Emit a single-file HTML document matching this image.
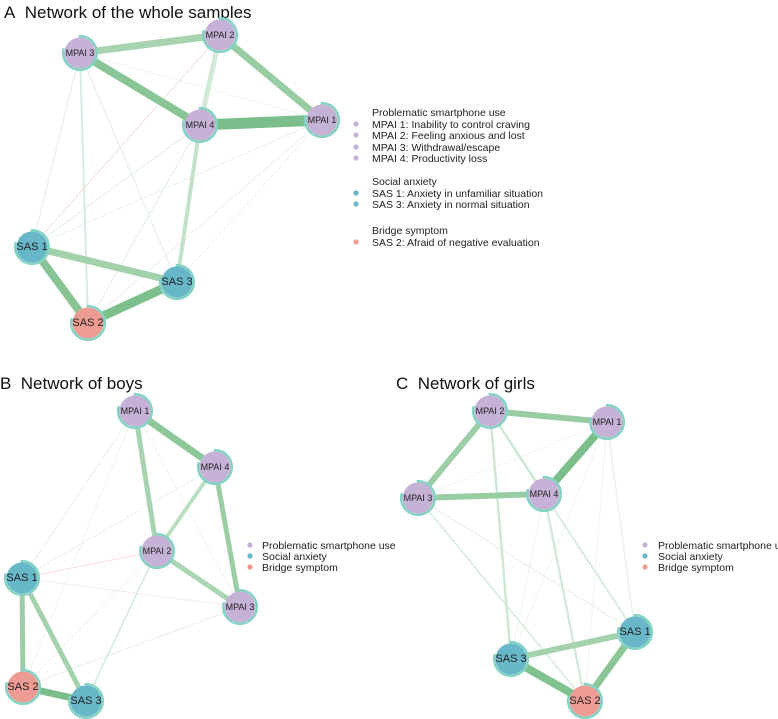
<!DOCTYPE html>
<html><head><meta charset="utf-8"><style>
body{margin:0;background:#fff}
svg{display:block;font-family:"Liberation Sans",Arial,sans-serif}
.t{font-size:17px;fill:#111}
.l{font-size:10.5px;fill:#222}
.m{font-size:9px;fill:#222;text-anchor:middle;dominant-baseline:central}
.s{font-size:11px;fill:#222;text-anchor:middle;dominant-baseline:central}
.r{fill:none;stroke:#86d3c6;stroke-width:2.6;stroke-dasharray:84 20}
</style></head><body>
<svg width="778" height="719" viewBox="0 0 778 719">
<text class="t" x="4" y="18">A&#160;&#160;Network of the whole samples</text>
<text class="t" x="0" y="389">B&#160;&#160;Network of boys</text>
<text class="t" x="396" y="389">C&#160;&#160;Network of girls</text>

<g stroke-linecap="butt">
<line x1="80" y1="53" x2="32" y2="247" stroke="#e6f2e9" stroke-width="1.2"/>
<line x1="80" y1="53" x2="177" y2="282" stroke="#e6f2e9" stroke-width="1.2"/>
<line x1="80" y1="53" x2="322" y2="120" stroke="#f0f7f2" stroke-width="1.2"/>
<line x1="220" y1="35" x2="32" y2="247" stroke="#f8e2e2" stroke-width="1.2"/>
<line x1="200" y1="125" x2="32" y2="247" stroke="#e6f2e9" stroke-width="1.2"/>
<line x1="200" y1="125" x2="88" y2="323" stroke="#e6f2e9" stroke-width="1.2"/>
<line x1="322" y1="120" x2="32" y2="247" stroke="#ebf4ed" stroke-width="1.2"/>
<line x1="322" y1="120" x2="88" y2="323" stroke="#ebf4ed" stroke-width="1.2"/>
<line x1="322" y1="120" x2="177" y2="282" stroke="#f0f7f2" stroke-width="1.2"/>
<line x1="80" y1="53" x2="88" y2="323" stroke="#d8ecde" stroke-width="2"/>
<line x1="220" y1="35" x2="200" y2="125" stroke="#d2e9d7" stroke-width="5"/>
<line x1="200" y1="125" x2="177" y2="282" stroke="#c2e1c8" stroke-width="4"/>
<line x1="80" y1="53" x2="220" y2="35" stroke="#a7d3b0" stroke-width="7"/>
<line x1="80" y1="53" x2="200" y2="125" stroke="#89c596" stroke-width="8"/>
<line x1="220" y1="35" x2="322" y2="120" stroke="#98cca3" stroke-width="7"/>
<line x1="200" y1="125" x2="322" y2="120" stroke="#7cbe8b" stroke-width="11"/>
<line x1="32" y1="247" x2="177" y2="282" stroke="#a2d1ac" stroke-width="7"/>
<line x1="32" y1="247" x2="88" y2="323" stroke="#88c495" stroke-width="8"/>
<line x1="88" y1="323" x2="177" y2="282" stroke="#7dbf8c" stroke-width="9"/>
</g>

<g>
<line x1="135" y1="411" x2="22" y2="578" stroke="#ebf4ed" stroke-width="1.2"/>
<line x1="135" y1="411" x2="23" y2="687" stroke="#f0f7f2" stroke-width="1.2"/>
<line x1="135" y1="411" x2="240" y2="607" stroke="#f0f7f2" stroke-width="1.2"/>
<line x1="215" y1="467" x2="22" y2="578" stroke="#ebf4ed" stroke-width="1.2"/>
<line x1="157" y1="551" x2="22" y2="578" stroke="#f8e2e2" stroke-width="1.2"/>
<line x1="22" y1="578" x2="240" y2="607" stroke="#f6eded" stroke-width="1.2"/>
<line x1="157" y1="551" x2="23" y2="687" stroke="#f0f7f2" stroke-width="1.2"/>
<line x1="240" y1="607" x2="23" y2="687" stroke="#e8f3eb" stroke-width="1.2"/>
<line x1="157" y1="551" x2="86" y2="701" stroke="#dbeee0" stroke-width="2"/>
<line x1="135" y1="411" x2="215" y2="467" stroke="#8ec799" stroke-width="7"/>
<line x1="135" y1="411" x2="157" y2="551" stroke="#a7d3b0" stroke-width="5"/>
<line x1="215" y1="467" x2="157" y2="551" stroke="#bcdfc3" stroke-width="4"/>
<line x1="215" y1="467" x2="240" y2="607" stroke="#9ccea6" stroke-width="5"/>
<line x1="157" y1="551" x2="240" y2="607" stroke="#a9d5b2" stroke-width="5"/>
<line x1="22" y1="578" x2="23" y2="687" stroke="#9ccea6" stroke-width="5"/>
<line x1="22" y1="578" x2="86" y2="701" stroke="#a4d2ad" stroke-width="5"/>
<line x1="23" y1="687" x2="86" y2="701" stroke="#7cbe8b" stroke-width="7"/>
</g>

<g>
<line x1="418" y1="498" x2="607" y2="422" stroke="#f0f7f2" stroke-width="1.2"/>
<line x1="418" y1="498" x2="635" y2="632" stroke="#e6f2e9" stroke-width="1.2"/>
<line x1="607" y1="422" x2="511" y2="659" stroke="#f0f7f2" stroke-width="1.2"/>
<line x1="607" y1="422" x2="585" y2="701" stroke="#f0f7f2" stroke-width="1.2"/>
<line x1="607" y1="422" x2="635" y2="632" stroke="#e8f3eb" stroke-width="1.5"/>
<line x1="544" y1="494" x2="511" y2="659" stroke="#f0f7f2" stroke-width="1.2"/>
<line x1="418" y1="498" x2="585" y2="701" stroke="#dcefe1" stroke-width="2"/>
<line x1="490" y1="411" x2="511" y2="659" stroke="#cfe8d5" stroke-width="2.5"/>
<line x1="490" y1="411" x2="544" y2="494" stroke="#cfe8d5" stroke-width="2.5"/>
<line x1="544" y1="494" x2="585" y2="701" stroke="#d3eada" stroke-width="2.5"/>
<line x1="544" y1="494" x2="635" y2="632" stroke="#d8ecde" stroke-width="2"/>
<line x1="490" y1="411" x2="607" y2="422" stroke="#98cca3" stroke-width="6"/>
<line x1="490" y1="411" x2="418" y2="498" stroke="#9ccea6" stroke-width="6"/>
<line x1="418" y1="498" x2="544" y2="494" stroke="#98cca3" stroke-width="6"/>
<line x1="544" y1="494" x2="607" y2="422" stroke="#7cbe8b" stroke-width="8"/>
<line x1="635" y1="632" x2="511" y2="659" stroke="#a4d2ad" stroke-width="6"/>
<line x1="511" y1="659" x2="585" y2="701" stroke="#82c190" stroke-width="8"/>
<line x1="635" y1="632" x2="585" y2="701" stroke="#8ac696" stroke-width="7"/>
</g>

<g>
<circle cx="80" cy="53" r="15.5" fill="#c6b2d6"/><circle class="r" cx="80" cy="53" r="16.8" transform="rotate(-90 80 53)"/><text class="m" x="80" y="53">MPAI 3</text>
<circle cx="220" cy="35" r="15.5" fill="#c6b2d6"/><circle class="r" cx="220" cy="35" r="16.8" transform="rotate(-90 220 35)"/><text class="m" x="220" y="35">MPAI 2</text>
<circle cx="200" cy="125" r="15.5" fill="#c6b2d6"/><circle class="r" cx="200" cy="125" r="16.8" transform="rotate(-90 200 125)"/><text class="m" x="200" y="125">MPAI 4</text>
<circle cx="322" cy="120" r="15.5" fill="#c6b2d6"/><circle class="r" cx="322" cy="120" r="16.8" transform="rotate(-90 322 120)"/><text class="m" x="322" y="120">MPAI 1</text>
<circle cx="32" cy="247" r="15.5" fill="#67b7c9"/><circle class="r" cx="32" cy="247" r="16.8" transform="rotate(-90 32 247)"/><text class="s" x="32" y="247">SAS 1</text>
<circle cx="177" cy="282" r="15.5" fill="#67b7c9"/><circle class="r" cx="177" cy="282" r="16.8" transform="rotate(-90 177 282)"/><text class="s" x="177" y="282">SAS 3</text>
<circle cx="88" cy="323" r="15.5" fill="#ee9c93"/><circle class="r" cx="88" cy="323" r="16.8" transform="rotate(-90 88 323)"/><text class="s" x="88" y="323">SAS 2</text>
<circle cx="135" cy="411" r="15.5" fill="#c6b2d6"/><circle class="r" cx="135" cy="411" r="16.8" transform="rotate(-90 135 411)"/><text class="m" x="135" y="411">MPAI 1</text>
<circle cx="215" cy="467" r="15.5" fill="#c6b2d6"/><circle class="r" cx="215" cy="467" r="16.8" transform="rotate(-90 215 467)"/><text class="m" x="215" y="467">MPAI 4</text>
<circle cx="157" cy="551" r="15.5" fill="#c6b2d6"/><circle class="r" cx="157" cy="551" r="16.8" transform="rotate(-90 157 551)"/><text class="m" x="157" y="551">MPAI 2</text>
<circle cx="240" cy="607" r="15.5" fill="#c6b2d6"/><circle class="r" cx="240" cy="607" r="16.8" transform="rotate(-90 240 607)"/><text class="m" x="240" y="607">MPAI 3</text>
<circle cx="22" cy="578" r="15.5" fill="#67b7c9"/><circle class="r" cx="22" cy="578" r="16.8" transform="rotate(-90 22 578)"/><text class="s" x="22" y="578">SAS 1</text>
<circle cx="23" cy="687" r="15.5" fill="#ee9c93"/><circle class="r" cx="23" cy="687" r="16.8" transform="rotate(-90 23 687)"/><text class="s" x="23" y="687">SAS 2</text>
<circle cx="86" cy="701" r="15.5" fill="#67b7c9"/><circle class="r" cx="86" cy="701" r="16.8" transform="rotate(-90 86 701)"/><text class="s" x="86" y="701">SAS 3</text>
<circle cx="490" cy="411" r="15.5" fill="#c6b2d6"/><circle class="r" cx="490" cy="411" r="16.8" transform="rotate(-90 490 411)"/><text class="m" x="490" y="411">MPAI 2</text>
<circle cx="607" cy="422" r="15.5" fill="#c6b2d6"/><circle class="r" cx="607" cy="422" r="16.8" transform="rotate(-90 607 422)"/><text class="m" x="607" y="422">MPAI 1</text>
<circle cx="418" cy="498" r="15.5" fill="#c6b2d6"/><circle class="r" cx="418" cy="498" r="16.8" transform="rotate(-90 418 498)"/><text class="m" x="418" y="498">MPAI 3</text>
<circle cx="544" cy="494" r="15.5" fill="#c6b2d6"/><circle class="r" cx="544" cy="494" r="16.8" transform="rotate(-90 544 494)"/><text class="m" x="544" y="494">MPAI 4</text>
<circle cx="635" cy="632" r="15.5" fill="#67b7c9"/><circle class="r" cx="635" cy="632" r="16.8" transform="rotate(-90 635 632)"/><text class="s" x="635" y="632">SAS 1</text>
<circle cx="511" cy="659" r="15.5" fill="#67b7c9"/><circle class="r" cx="511" cy="659" r="16.8" transform="rotate(-90 511 659)"/><text class="s" x="511" y="659">SAS 3</text>
<circle cx="585" cy="701" r="15.5" fill="#ee9c93"/><circle class="r" cx="585" cy="701" r="16.8" transform="rotate(-90 585 701)"/><text class="s" x="585" y="701">SAS 2</text>
</g>

<g class="l">
<text class="l" x="372" y="116">Problematic smartphone use</text>
<circle cx="356" cy="124" r="2.6" fill="#c6b2d6"/><text class="l" x="372" y="128">MPAI 1: Inability to control craving</text>
<circle cx="356" cy="135" r="2.6" fill="#c6b2d6"/><text class="l" x="372" y="139">MPAI 2: Feeling anxious and lost</text>
<circle cx="356" cy="147" r="2.6" fill="#c6b2d6"/><text class="l" x="372" y="151">MPAI 3: Withdrawal/escape</text>
<circle cx="356" cy="158" r="2.6" fill="#c6b2d6"/><text class="l" x="372" y="162">MPAI 4: Productivity loss</text>
<text class="l" x="372" y="185">Social anxiety</text>
<circle cx="356" cy="193" r="2.6" fill="#67b7c9"/><text class="l" x="372" y="197">SAS 1: Anxiety in unfamiliar situation</text>
<circle cx="356" cy="204" r="2.6" fill="#67b7c9"/><text class="l" x="372" y="208">SAS 3: Anxiety in normal situation</text>
<text class="l" x="372" y="234">Bridge symptom</text>
<circle cx="356" cy="242" r="2.6" fill="#ee9c93"/><text class="l" x="372" y="246">SAS 2: Afraid of negative evaluation</text>
</g>
<circle cx="250" cy="545" r="2.6" fill="#c6b2d6"/><text class="l" x="262" y="549">Problematic smartphone use</text>
<circle cx="250" cy="556" r="2.6" fill="#67b7c9"/><text class="l" x="262" y="560">Social anxiety</text>
<circle cx="250" cy="567" r="2.6" fill="#ee9c93"/><text class="l" x="262" y="571">Bridge symptom</text>
<circle cx="645" cy="545" r="2.6" fill="#c6b2d6"/><text class="l" x="658" y="549">Problematic smartphone use</text>
<circle cx="645" cy="556" r="2.6" fill="#67b7c9"/><text class="l" x="658" y="560">Social anxiety</text>
<circle cx="645" cy="567" r="2.6" fill="#ee9c93"/><text class="l" x="658" y="571">Bridge symptom</text>
</svg>
</body></html>
